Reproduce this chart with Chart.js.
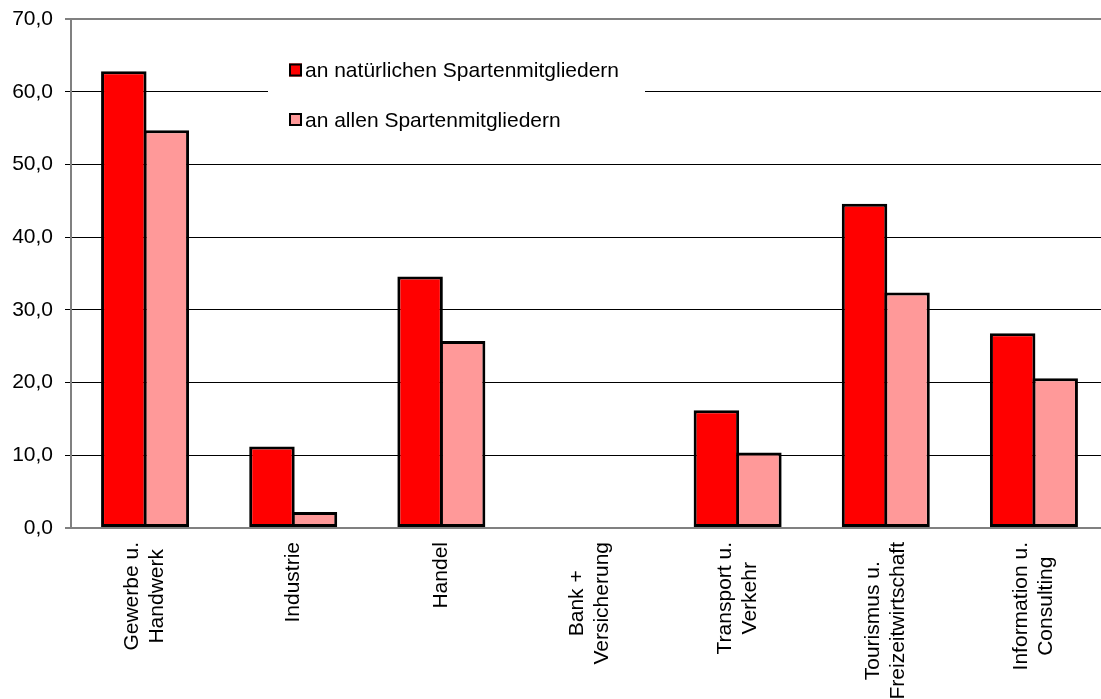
<!DOCTYPE html>
<html>
<head>
<meta charset="utf-8">
<script src="https://cdn.jsdelivr.net/npm/chart.js@4.4.1/dist/chart.umd.min.js"></script>
<style>
    html, body { margin: 0; padding: 0; background: #fff; overflow: hidden; }
    #wrap { position: relative; width: 1110px; height: 699px; }
</style>
</head>
<body>
<div id="wrap"><canvas id="chart"></canvas></div>
<script>
const categories = [
    ["Gewerbe u.", "Handwerk"],
    ["Industrie"],
    ["Handel"],
    ["Bank +", "Versicherung"],
    ["Transport u.", "Verkehr"],
    ["Tourismus u.", "Freizeitwirtschaft"],
    ["Information u.", "Consulting"]
];
const seriesNames = ["an natürlichen Spartenmitgliedern", "an allen Spartenmitgliedern"];
const natuerlich = [62.8, 11.2, 34.6, 0, 16.2, 44.6, 26.8];
const alle = [54.7, 2.2, 25.7, 0, 10.4, 32.4, 20.6];
const yMin = 0, yMax = 70, yStep = 10;

const FONT = '"Liberation Sans", Arial, sans-serif';

// x labels: rotated, lines centred on each other (Chart.js would right-align them)
const xLabels = {
    id: "xLabels",
    afterDraw(chart) {
        const { ctx, scales: { x } } = chart;
        ctx.save();
        ctx.font = "21px " + FONT;
        ctx.fillStyle = "#000";
        ctx.textAlign = "center";
        ctx.textBaseline = "middle";
        categories.forEach((lines, i) => {
            const px = x.getPixelForTick(i);
            const longest = Math.max(...lines.map(l => ctx.measureText(l).width));
            ctx.save();
            ctx.translate(px, x.top + 14 + longest / 2);
            ctx.rotate(-Math.PI / 2);
            lines.forEach((l, j) => ctx.fillText(l, 0, (j - (lines.length - 1) / 2) * 25));
            ctx.restore();
        });
        ctx.restore();
    }
};

// legend sits inside the plot on a white box
const innerLegend = {
    id: "innerLegend",
    beforeDatasetsDraw(chart) {
        const ctx = chart.ctx;
        ctx.save();
        ctx.fillStyle = "#fff";
        ctx.fillRect(268, 45, 377, 100);
        ctx.font = "21px " + FONT;
        ctx.textBaseline = "alphabetic";
        chart.data.datasets.forEach((ds, i) => {
            const y = 63.5 + i * 49.5;
            ctx.fillStyle = ds.backgroundColor;
            ctx.fillRect(289, y, 13, 13);
            ctx.strokeStyle = "#000";
            ctx.lineWidth = 2;
            ctx.strokeRect(290, y + 1, 11, 11);
            ctx.fillStyle = "#000";
            ctx.fillText(ds.label, 305, y + 13.5);
        });
        ctx.restore();
    }
};

const ctx = document.getElementById("chart").getContext("2d");
new Chart(ctx, {
    type: "bar",
    data: {
        labels: categories,
        datasets: [{
            label: seriesNames[0],
            data: natuerlich,
            backgroundColor: "#ff0000"
        }, {
            label: seriesNames[1],
            data: alle,
            backgroundColor: "#ff9999"
        }]
    },
    options: {
        responsive: true,
        maintainAspectRatio: false,
        devicePixelRatio: 1,
        animation: false,
        layout: { padding: { top: 19, right: 2, left: 0, bottom: 0 } },
        datasets: {
            bar: {
                borderColor: "#000",
                borderWidth: 3,
                borderSkipped: false,
                inflateAmount: 0,
                categoryPercentage: 0.574,
                barPercentage: 1.07
            }
        },
        plugins: {
            legend: { display: false },
            tooltip: { enabled: false }
        },
        scales: {
            x: {
                grid: { display: false, drawTicks: false },
                border: { display: true, color: "#808080", width: 2 },
                ticks: { display: false },
                afterFit: s => { s.height = 171; }
            },
            y: {
                min: yMin,
                max: yMax,
                ticks: {
                    stepSize: yStep,
                    padding: 12,
                    color: "#000",
                    font: { size: 21, family: FONT },
                    callback: v => v.toFixed(1).replace(".", ",")
                },
                grid: {
                    color: c => (c.tick.value === yMax || c.tick.value === yMin) ? "#808080" : "#000",
                    lineWidth: c => (c.tick.value === yMax || c.tick.value === yMin) ? 2 : 1,
                    tickLength: 6
                },
                border: { color: "#808080", width: 2 },
                afterFit: s => {
                    s.width = 71;
                    s.paddingTop = 0;
                    s.paddingBottom = 0;
                }
            }
        }
    },
    plugins: [innerLegend, xLabels]
});
</script>
</body>
</html>
